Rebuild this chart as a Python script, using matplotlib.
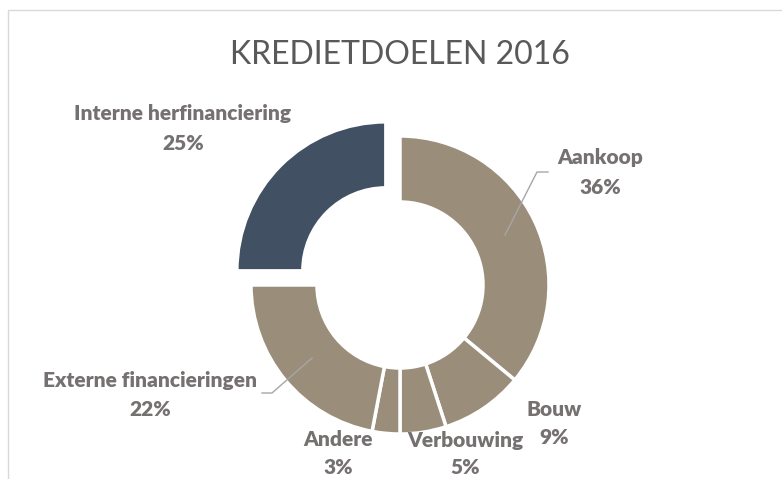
import matplotlib.pyplot as plt
from matplotlib.patches import Rectangle

# gegevens
labels = ['Aankoop', 'Bouw', 'Verbouwing', 'Andere', 'Externe financieringen', 'Interne herfinanciering']
values = [36, 9, 5, 3, 22, 25]
colors = ['#9a8e7b', '#9a8e7b', '#9a8e7b', '#9a8e7b', '#9a8e7b', '#415163']
explode = [0, 0, 0, 0, 0, 20]

plt.rcParams['font.family'] = ['Lato', 'DejaVu Sans']

W, H = 782, 479
fig = plt.figure(figsize=(W / 100, H / 100), dpi=100)
ax = fig.add_axes([0, 0, 1, 1])

# kader
fig.patches.append(Rectangle((8 / W, -0.1), 1.0, (H - 10) / H + 0.1, transform=fig.transFigure,
                             fill=False, edgecolor='#d9d9d9', lw=1))

cx, cy = 400, H - 285
ax.pie(values, colors=colors, explode=explode, startangle=90, counterclock=False,
       center=(cx, cy), radius=149, frame=True,
       wedgeprops=dict(width=66, edgecolor='white', linewidth=2.5))
ax.set_xlim(0, W)
ax.set_ylim(0, H)
ax.axis('off')

ax.text(W / 2 + 9, H - 55, 'KREDIETDOELEN 2016', ha='center', va='center',
        fontsize=23, color='#595959', fontweight='normal')

# labels (positie in pixels vanaf boven)
pos = {
    'Aankoop': (600, 157, 187),
    'Bouw': (554, 410, 438),
    'Verbouwing': (465, 440, 468),
    'Andere': (338, 440, 468),
    'Externe financieringen': (150, 380, 409),
    'Interne herfinanciering': (183, 113, 143),
}
for lab, v in zip(labels, values):
    x, y1, y2 = pos[lab]
    ax.text(x, H - y1, lab, ha='center', va='center', fontsize=15,
            fontweight='heavy', color='#767171')
    ax.text(x, H - y2, f'{v}%', ha='center', va='center', fontsize=15,
            fontweight='heavy', color='#767171')

# verbindingslijnen
ax.plot([505, 537, 548], [H - 235, H - 172, H - 172], color='#a6a6a6', lw=1)
ax.plot([312, 272, 262], [H - 358, H - 393, H - 393], color='#a6a6a6', lw=1)

fig.savefig('out.png', dpi=100)
